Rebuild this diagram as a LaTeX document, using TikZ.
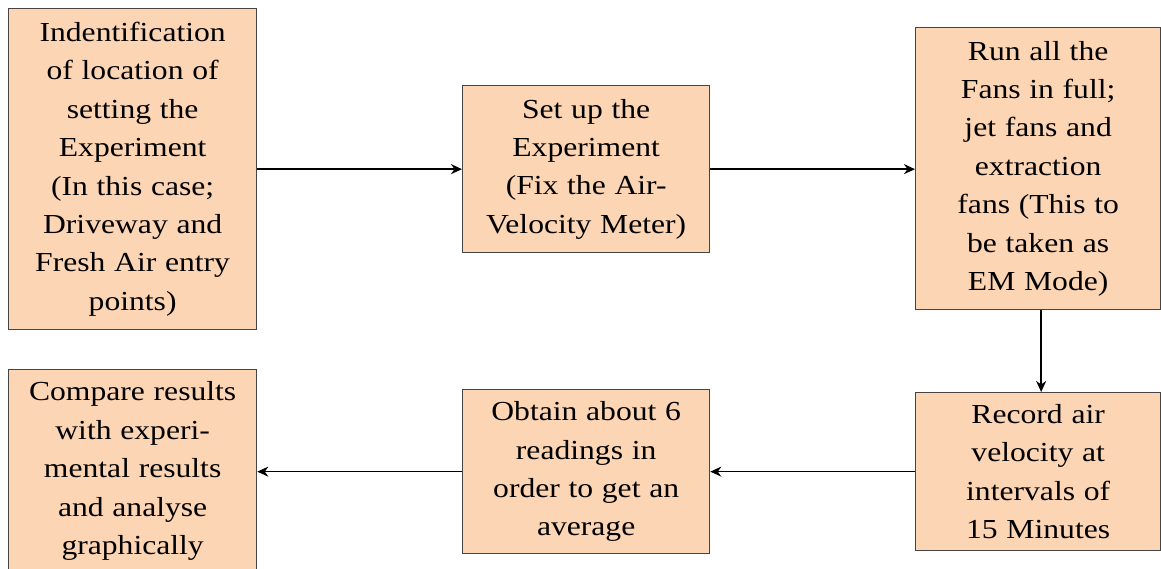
\documentclass[tikz,border=0pt]{standalone}
\usepackage{fontspec}
\setmainfont{Liberation Serif}[FakeStretch=1.15, WordSpace=1.1]
\usetikzlibrary{arrows.meta}
\definecolor{peach}{HTML}{FCD5B4}
\definecolor{boxline}{HTML}{454545}
\tikzset{
  flowbox/.style={draw=boxline, line width=1.3pt, fill=peach, rectangle, anchor=north west,
    inner sep=0pt, align=center, font=\fontsize{27.5}{38.4}\selectfont},
  flowarrow/.style={line width=1.6pt, -{Stealth[length=11pt,width=10pt,inset=3.5pt]}}
}
\begin{document}
\begin{tikzpicture}[x=1pt,y=-1pt]
\useasboundingbox (0,0) rectangle (1161,569);
\node[flowbox, minimum width=248pt, minimum height=321pt] (b1) at (8,8)
  {Indentification\\of location of\\setting the\\Experiment\\(In this case;\\Driveway and\\Fresh Air entry\\points)};
\node[flowbox, minimum width=247pt, minimum height=167pt] (b2) at (462,85)
  {Set up the\\Experiment\\(Fix the Air-\\Velocity Meter)};
\node[flowbox, minimum width=245pt, minimum height=282pt] (b3) at (915,27)
  {Run all the\\Fans in full;\\jet fans and\\extraction\\fans (This to\\be taken as\\EM Mode)};
\node[flowbox, minimum width=245pt, minimum height=158pt] (b6) at (915,392)
  {Record air\\velocity at\\intervals of\\15 Minutes};
\node[flowbox, minimum width=247pt, minimum height=164pt] (b5) at (462,389)
  {Obtain about 6\\readings in\\order to get an\\average};
\node[flowbox, minimum width=248pt, minimum height=203pt] (b4) at (8,369)
  {Compare results\\with experi-\\mental results\\and analyse\\graphically};
\draw[flowarrow] (b1.east |- b2.west) -- (b2.west);
\draw[flowarrow] (b2.east) -- (b3.west |- b2.east);
\draw[flowarrow] ([xshift=3pt]b3.south) -- ([xshift=3pt]b6.north);
\draw[flowarrow] (b6.west) -- (b5.east |- b6.west);
\draw[flowarrow] (b5.west) -- (b4.east |- b5.west);
\end{tikzpicture}
\end{document}
